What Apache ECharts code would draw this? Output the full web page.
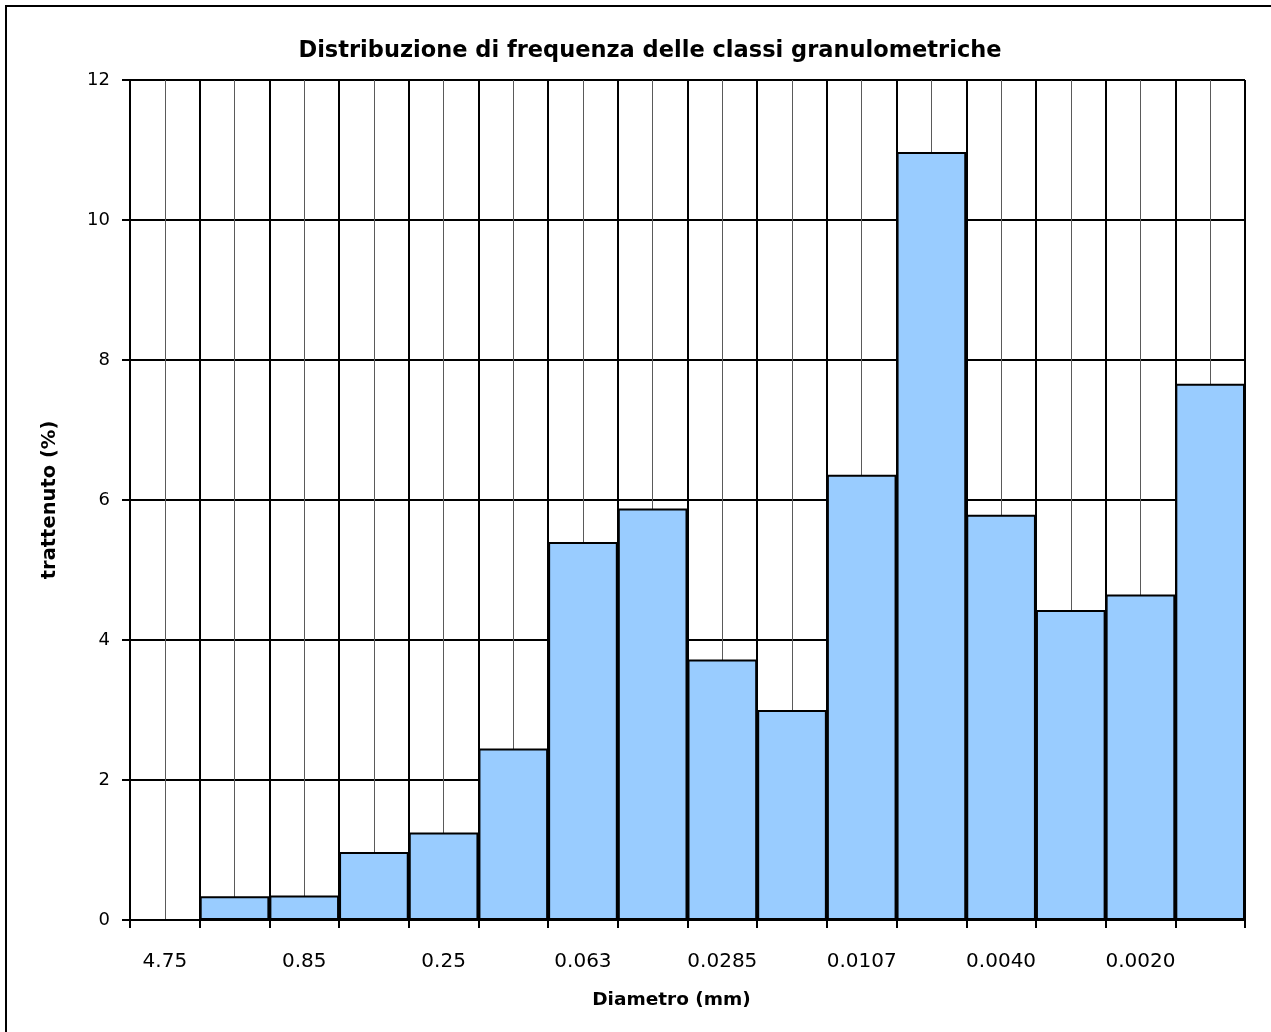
<!DOCTYPE html>
<html>
<head>
<meta charset="utf-8">
<script src="https://cdn.jsdelivr.net/npm/echarts@6/dist/echarts.min.js"></script>
<style>
  html, body { margin: 0; padding: 0; background: #fff; }
  #chart { width: 1271px; height: 1032px; }
</style>
</head>
<body>
<div id="chart"></div>
<script>
// ---- Data ----
const titleText = 'Distribuzione di frequenza delle classi granulometriche';
const xAxisTitle = 'Diametro (mm)';
const yAxisTitle = 'trattenuto (%)';
// 16 classes; only every other class label is printed in the reference
const categories = ['4.75', '', '0.85', '', '0.25', '', '0.063', '', '0.0285', '', '0.0107', '', '0.0040', '', '0.0020', ''];
const retained = [0, 0.34, 0.35, 0.97, 1.25, 2.45, 5.40, 5.88, 3.72, 3.00, 6.36, 10.97, 5.79, 4.43, 4.65, 7.66];
const yMin = 0, yMax = 12, yStep = 2;

// half-class helper axis (for the thin mid-class grid lines)
const halfClasses = categories.flatMap((c, i) => [i + 'a', i + 'b']);

const labelFont = 'DejaVu Sans';
const titleFont = '"Comic Sans MS", "DejaVu Sans", sans-serif';

const chart = echarts.init(document.getElementById('chart'), null, { renderer: 'canvas' });
chart.setOption({
  backgroundColor: '#ffffff',
  animation: false,
  title: {
    text: titleText,
    left: 645,
    top: 35,
    textAlign: 'center',
    textStyle: { fontFamily: titleFont, fontWeight: 'bold', fontSize: 22.5, color: '#000' }
  },
  graphic: [{
    type: 'rect',
    shape: { x: 6, y: 6, width: 1300, height: 1100 },
    style: { fill: 'none', stroke: '#000', lineWidth: 2 },
    silent: true,
    z: 100
  }],
  grid: { left: 130, right: 26, top: 80, bottom: 112, containLabel: false },
  xAxis: [{
    type: 'category',
    data: categories,
    boundaryGap: true,
    position: 'bottom',
    name: xAxisTitle,
    nameLocation: 'middle',
    nameGap: 71,
    nameTextStyle: { fontFamily: titleFont, fontWeight: 'bold', fontSize: 18.5, color: '#000', padding: [0, 32, 0, 0] },
    axisLine: { show: true, lineStyle: { color: '#000', width: 2 } },
    axisTick: { show: true, length: 8, interval: 0, lineStyle: { color: '#000', width: 2 } },
    axisLabel: { interval: 0, margin: 32, fontFamily: labelFont, fontSize: 20, color: '#000' },
    splitLine: { show: true, interval: 0, lineStyle: { color: '#000', width: 2 } }
  }, {
    type: 'category',
    data: halfClasses,
    boundaryGap: true,
    position: 'bottom',
    gridIndex: 0,
    axisLine: { show: false },
    axisTick: { show: false },
    axisLabel: { show: false },
    splitLine: { show: true, interval: 0, lineStyle: { color: ['rgba(0,0,0,0)', '#5a5a5a'], width: 1 } }
  }],
  yAxis: {
    type: 'value',
    min: yMin,
    max: yMax,
    interval: yStep,
    name: yAxisTitle,
    nameLocation: 'middle',
    nameGap: 70,
    nameRotate: 90,
    nameTextStyle: { fontFamily: titleFont, fontWeight: 'bold', fontSize: 19.5, color: '#000' },
    axisLine: { show: true, lineStyle: { color: '#000', width: 2 } },
    axisTick: { show: true, length: 8, lineStyle: { color: '#000', width: 2 } },
    axisLabel: { margin: 20, fontFamily: labelFont, fontSize: 18, color: '#000' },
    splitLine: { show: true, lineStyle: { color: '#000', width: 2 } }
  },
  series: [{
    type: 'bar',
    xAxisIndex: 0,
    data: retained,
    barCategoryGap: '0%',
    itemStyle: { color: '#99ccff', borderColor: '#000', borderWidth: 2 },
    emphasis: { disabled: true }
  }]
});
</script>
</body>
</html>
